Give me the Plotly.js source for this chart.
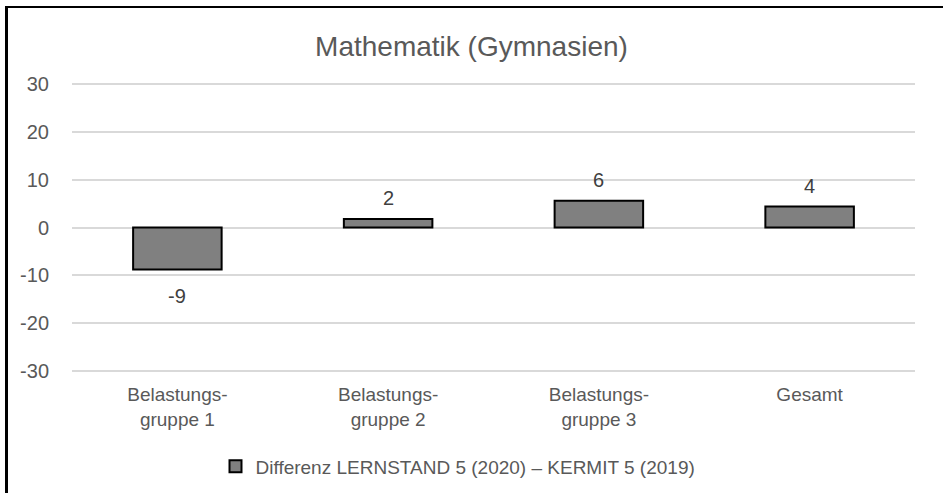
<!DOCTYPE html>
<html>
<head>
<meta charset="utf-8">
<script src="https://cdn.plot.ly/plotly-3.0.1.min.js"></script>
<style>
  html, body { margin: 0; padding: 0; background: #fff; }
  #wrap { position: relative; width: 943px; height: 493px; overflow: hidden; }
  #chart { position: absolute; left: 0; top: 0; width: 943px; height: 493px; }
  #frame { position: absolute; left: 5px; top: 6px; width: 960px; height: 520px;
           border-left: 3px solid #000; border-top: 2px solid #000; pointer-events: none; }
</style>
</head>
<body>
<div id="wrap">
  <div id="chart"></div>
  <div id="frame"></div>
</div>
<script>
const categories = ["Belastungs-<br>gruppe 1", "Belastungs-<br>gruppe 2", "Belastungs-<br>gruppe 3", "Gesamt"];
const differenz = [-8.8, 1.8, 5.6, 4.4];
const labels = ["-9", "2", "6", "4"];
const seriesName = "Differenz LERNSTAND 5 (2020) – KERMIT 5 (2019)";
const yTicks = [-30, -20, -10, 0, 10, 20, 30];

const font = "Liberation Sans, Arial, sans-serif";

const annotations = categories.map((c, i) => ({
  x: c, y: differenz[i], xref: "x", yref: "y",
  text: labels[i], showarrow: false,
  yanchor: "middle", xanchor: "center",
  yshift: differenz[i] >= 0 ? 21 : -27,
  font: { family: font, size: 20, color: "#404040" }
}));

const data = [{
  type: "bar",
  x: categories,
  y: differenz,
  name: seriesName,
  marker: { color: "#808080", line: { color: "#000000", width: 2 } },
  hoverinfo: "none"
}];

const layout = {
  width: 943, height: 493,
  margin: { l: 72, r: 28, t: 83.3, b: 120.9, autoexpand: false },
  paper_bgcolor: "#ffffff", plot_bgcolor: "#ffffff",
  font: { family: font, color: "#595959" },
  title: {
    text: "Mathematik (Gymnasien)",
    x: 0.5, xref: "container", xanchor: "center",
    y: 1 - 46 / 493, yref: "container", yanchor: "middle",
    font: { family: font, size: 28, color: "#595959" }
  },
  bargap: 0.58,
  xaxis: {
    type: "category",
    showgrid: false, zeroline: false, showline: false, ticks: "",
    tickfont: { family: font, size: 19, color: "#595959" },
    ticklabelstandoff: 9
  },
  yaxis: {
    range: [-30.3, 30.3],
    tickvals: yTicks,
    ticktext: yTicks.map(String),
    showgrid: true, gridcolor: "#d9d9d9", gridwidth: 2,
    zeroline: true, zerolinecolor: "#d9d9d9", zerolinewidth: 2,
    showline: false, ticks: "",
    tickfont: { family: font, size: 20, color: "#595959" },
    ticklabelstandoff: 22
  },
  showlegend: true,
  legend: {
    orientation: "h",
    x: (458 - 72) / 843, xanchor: "center",
    y: (370.7 - 464) / 286, yanchor: "middle",
    font: { family: font, size: 19, color: "#595959" },
    itemwidth: 30
  },
  annotations: annotations
};

Plotly.newPlot("chart", data, layout, { displayModeBar: false, staticPlot: true });
</script>
</body>
</html>
